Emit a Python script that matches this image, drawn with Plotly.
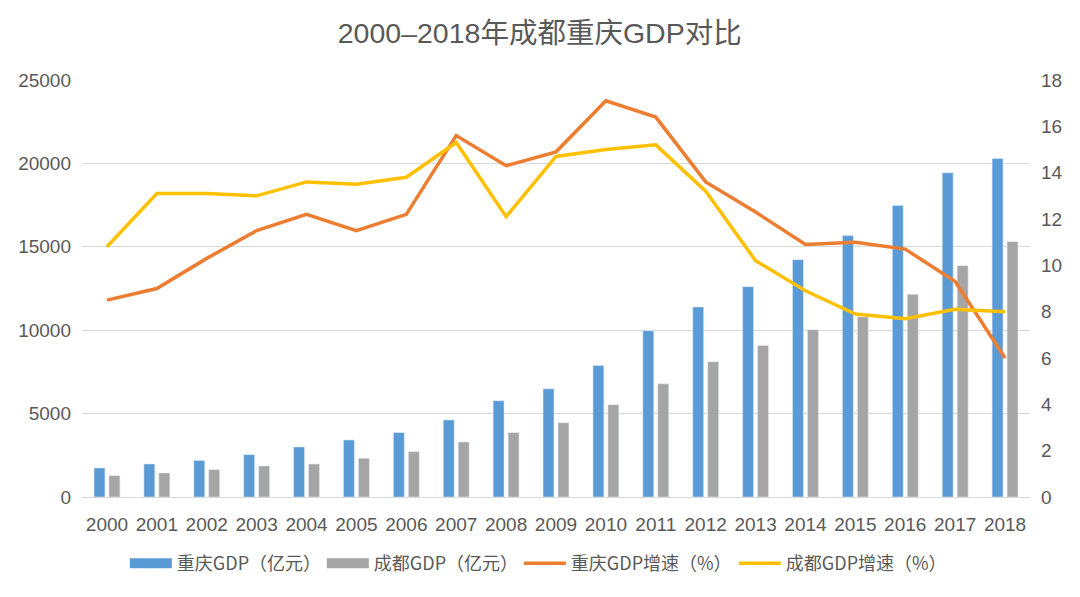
import plotly.graph_objects as go

years = [str(y) for y in range(2000, 2019)]
cq_gdp = [1740, 1980, 2190, 2540, 3000, 3420, 3860, 4620, 5770, 6490, 7890, 9970,
          11390, 12610, 14230, 15670, 17480, 19440, 20300]
cd_gdp = [1280, 1440, 1640, 1860, 1980, 2320, 2720, 3300, 3860, 4450, 5530, 6790,
          8110, 9090, 10030, 10800, 12150, 13870, 15310]
cq_growth = [8.5, 9.0, 10.3, 11.5, 12.2, 11.5, 12.2, 15.6, 14.3, 14.9, 17.1, 16.4,
             13.6, 12.3, 10.9, 11.0, 10.7, 9.3, 6.0]
cd_growth = [10.8, 13.1, 13.1, 13.0, 13.6, 13.5, 13.8, 15.3, 12.1, 14.7, 15.0, 15.2,
             13.2, 10.2, 8.9, 7.9, 7.7, 8.1, 8.0]

names = ["重庆GDP（亿元）", "成都GDP（亿元）", "重庆GDP增速（%）", "成都GDP增速（%）"]
colors = ["#5b9bd5", "#a5a5a5", "#ed7d31", "#ffc000"]

FONT = "Liberation Sans, Noto Sans CJK SC, sans-serif"
TXT = "#595959"

fig = go.Figure()
# bars (legend shown through rectangle swatches below)
fig.add_trace(go.Bar(x=years, y=cq_gdp, name=names[0], marker_color=colors[0],
                     showlegend=False))
fig.add_trace(go.Bar(x=years, y=cd_gdp, name=names[1], marker_color=colors[1],
                     showlegend=False))
# legend swatches for bars (rectangular, like the reference)
fig.add_trace(go.Scatter(x=[None], y=[None], name=names[0], mode="lines",
                         line=dict(color=colors[0], width=10), legendwidth=140,
                         hoverinfo="skip"))
fig.add_trace(go.Scatter(x=[None], y=[None], name=names[1], mode="lines",
                         line=dict(color=colors[1], width=10), legendwidth=140,
                         hoverinfo="skip"))
fig.add_trace(go.Scatter(x=years, y=cq_growth, name=names[2], mode="lines",
                         line=dict(color=colors[2], width=3.5), yaxis="y2",
                         legendwidth=158))
fig.add_trace(go.Scatter(x=years, y=cd_growth, name=names[3], mode="lines",
                         line=dict(color=colors[3], width=3.5), yaxis="y2",
                         legendwidth=158))

fig.update_layout(
    width=1072, height=589,
    paper_bgcolor="white", plot_bgcolor="white",
    margin=dict(l=74, r=50, t=72, b=100, autoexpand=False),
    font=dict(family=FONT, color=TXT, size=17),
    title=dict(text="2000–2018年成都重庆GDP对比", x=0.496, xref="container",
               xanchor="center", y=0.958, yref="container", yanchor="middle",
               font=dict(size=28.5, color=TXT, family=FONT)),
    barmode="group", bargap=0.4, bargroupgap=0.27,
    xaxis=dict(type="category", showgrid=False, showline=True, linecolor="#d9d9d9",
               ticks="", ticklabelstandoff=10,
               tickfont=dict(size=19, color=TXT, family=FONT)),
    yaxis=dict(range=[0, 25000], dtick=5000, showgrid=True, gridcolor="#d9d9d9",
               gridwidth=1, zeroline=False, ticks="", tickformat="d",
               ticklabelstandoff=10,
               tickfont=dict(size=19, color=TXT, family=FONT)),
    yaxis2=dict(range=[0, 18], dtick=2, overlaying="y", side="right", showgrid=False,
                zeroline=False, ticks="", ticklabelstandoff=10,
                tickfont=dict(size=19, color=TXT, family=FONT)),
    legend=dict(orientation="h", xref="container", yref="container",
                x=0.109, xanchor="left", y=0.057, yanchor="middle",
                font=dict(size=18, color=TXT, family="Noto Sans CJK SC, sans-serif"),
                itemwidth=42, traceorder="normal", bgcolor="rgba(0,0,0,0)"),
    showlegend=True,
)

fig.write_html("out.html")
